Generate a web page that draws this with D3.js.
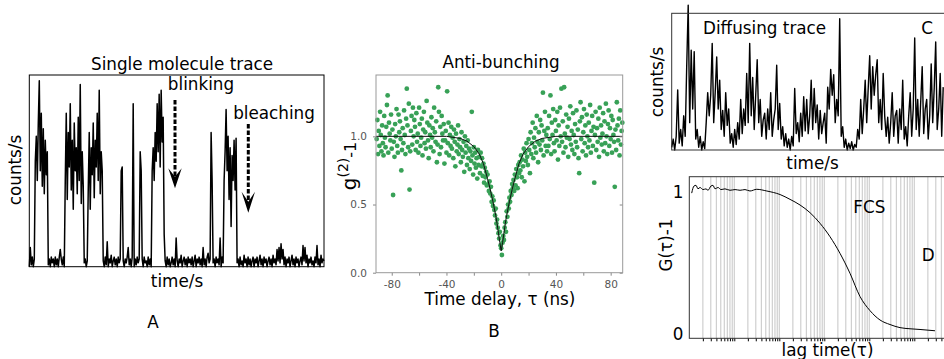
<!DOCTYPE html>
<html>
<head>
<meta charset="utf-8">
<script src="https://cdn.jsdelivr.net/npm/d3@7"></script>
<style>
  body { margin: 0; background: #fff; }
  svg { display: block; font-family: "DejaVu Sans", sans-serif; }
  .lbl { font-size: 16.8px; fill: #000; }
  .axis-b text { font-size: 10.5px; fill: #555; font-family: "DejaVu Sans", sans-serif; }
  .axis-b line { stroke: #888; }
  .axis-b path { display: none; }
  .axis-d line { stroke: #000; }
  .axis-d path { display: none; }
</style>
</head>
<body>
<svg id="chart" width="944" height="359"></svg>
<script>
// A - single molecule trace, one value per time bin (arb. counts, 0-100)
const traceA = [
  0,10,1,5,0,4,
  55,68,45,75,97,50,80,42,72,38,66,48,60,
  1,4,0,5,2,4,0,5,1,4,0,5,9,4,1,5,0,
  45,80,35,70,52,85,40,66,30,75,50,62,38,78,45,95,33,60,42,
  2,4,0,3,
  40,70,30,62,48,75,36,66,52,80,45,92,38,60,50,
  3,0,5,1,13,0,4,2,6,0,3,5,1,4,0,5,2,4,
  50,52,
  3,0,4,2,5,10,1,4,0,5,
  85,
  0,4,1,5,2,4,
  60,50,
  4,0,5,2,3,0,5,1,4,0,
  50,62,45,70,55,85,60,90,52,92,65,78,17,
  3,0,5,1,4,0,2,5,1,4,0,15,3,0,4,2,6,0,3,5,1,4,0,5,2,4,1,5,0,3,6,0,4,2,5,1,4,0,10,1,4,0,5,7,2,4,
  70,45,2,
  4,0,5,2,4,1,15,0,5,2,
  45,60,82,50,68,35,62,21,58,45,66,40,67,
  2,
  4,0,5,1,3,0,6,2,4,0,
  5,1,4,0,3,5,0,4,2,5,
  0,3,6,1,4,0,5,2,4,0,
  3,5,1,4,0,6,2,4,1,9,
  3,10,2,12,4,9,1,5,0,4,
  2,5,0,3,6,1,4,0,5,2,
  4,0,3,5,1,11,3,10,2,6,
  0,4,2,5,1,3,0,5,2,11,
  1,4,0,6,2,4,3
];

// B - anti-bunching histogram, g2 values (x100) for bins of 0.5 ns starting at -91 ns
const binStart = -91;
const binStep = 0.5;
const g2 = [
  98,112,87,104,93,118,101,89,108,95,
  86,115,99,92,107,123,130,88,110,102,
  97,116,91,105,57,96,85,109,100,120,
  93,88,116,103,111,98,75,90,106,95,
  119,101,87,113,135,108,92,124,61,89,
  104,115,94,121,100,112,107,90,117,96,
  102,88,121,109,93,99,113,86,105,118,
  95,103,91,126,110,97,84,108,101,92,
  114,99,106,89,121,103,96,111,81,94,
  136,118,87,107,92,115,102,97,109,80,
  97,104,88,133,95,110,86,101,93,107,
  91,99,84,105,96,78,102,89,94,108,
  87,98,92,81,103,90,85,96,74,100,
  88,93,79,97,84,91,76,89,82,118,
  86,72,92,80,88,77,84,69,90,79,
  85,73,88,78,84,71,80,66,77,70,
  74,64,72,65,60,67,58,63,52,56,
  49,53,46,42,47,36,39,33,29,25,
  30,20,18,13,22,27,24,33,37,30,
  45,41,50,47,55,52,60,57,65,62,
  68,60,72,64,76,70,62,79,73,81,
  75,86,70,83,78,91,67,88,82,95,
  85,79,98,90,73,103,87,95,110,84,
  99,92,106,88,115,96,81,103,94,112,
  90,108,97,132,86,104,118,93,101,89,
  106,93,115,98,130,87,110,101,120,95,
  89,112,104,97,118,83,108,93,121,100,
  135,96,111,88,136,102,92,116,99,107,
  85,113,98,122,94,104,90,117,101,87,
  109,96,119,92,105,84,73,111,125,98,
  114,89,103,120,95,108,86,116,100,92,
  110,97,123,88,104,115,93,107,66,101,
  118,90,106,96,113,85,121,99,108,94,
  102,117,89,111,95,124,100,87,109,119,
  93,106,98,115,88,112,101,96,63,105,
  90,125,108,97,113,86,119,94,104,110
];
// fitted anti-bunching curve
const fitTau = [-91.5,-40,-30,-25,-20,-16,-13,-10,-8,-6,-4,-3,-2,-1,0,1,2,3,4,6,8,10,13,16,20,25,30,40,88.8];
const fitG = [1.0,1.0,0.985,0.965,0.925,0.87,0.8,0.69,0.61,0.52,0.42,0.36,0.29,0.22,0.16,0.22,0.29,0.36,0.42,0.52,0.61,0.69,0.8,0.87,0.925,0.965,0.985,1.0,1.0];
const tauTicks = [-80,-60,-40,-20,0,20,40,60,80];
const g2Ticks = [0, 0.5, 1.0];

// C - diffusing trace (arb. counts, 0-100)
const traceC = [
  2,8,0,10,44,5,15,3,25,10,61,106,20,73,30,72,8,15,2,10,
  0,6,1,20,42,25,40,78,20,42,68,30,51,15,29,10,42,18,30,5,
  12,2,15,4,20,8,37,12,30,18,56,20,78,25,53,15,40,66,20,37,
  10,22,27,8,30,15,42,10,22,30,62,15,34,8,17,3,12,2,8,0,
  10,3,45,12,20,6,27,10,39,14,37,12,25,51,15,45,20,33,8,29,
  12,20,27,5,46,30,59,40,55,20,37,25,96,10,17,2,8,0,5,1,
  6,0,4,2,15,8,37,12,30,51,20,45,69,30,61,40,55,66,20,37,
  15,56,25,10,24,5,20,42,10,25,29,5,30,15,51,8,17,3,25,42,
  10,30,82,15,37,10,35,61,12,30,37,8,25,63,20,45,79,15,30,56,
  10,46
];

// D - FCS autocorrelation, lag time (arb. units) and G(tau)-1
const lagT = [1.13,1.27,1.41,1.56,1.73,2.02,2.35,2.6,3.03,3.36,3.73,4.35,5.06,6.21,8.03,10.4,13.4,17.3,22.3,31.5,52.5,104,173,289,481,802,1340,2230,3720,6210,10370,17300,28800,48100,80200,134000,288000];
const gFCS = [0.99,1.04,1.045,1.02,1.03,1.015,1.02,1.01,1.04,1.045,1.02,1.03,1.015,1.02,1.01,1.015,1.01,1.015,1.005,1.017,1.005,0.98,0.946,0.906,0.852,0.777,0.682,0.565,0.424,0.26,0.16,0.094,0.062,0.04,0.032,0.027,0.018];
const gTicks = [0, 1];

const svg = d3.select('#chart');
svg.append('rect').attr('width', 944).attr('height', 359).attr('fill', '#fff');

function label(x, y, text, opts = {}) {
  const t = svg.append('text')
    .attr('class', 'lbl')
    .attr('text-anchor', opts.anchor || 'middle')
    .text(text);
  if (opts.rotate) {
    t.attr('transform', `translate(${x},${y}) rotate(-90)`);
  } else {
    t.attr('x', x).attr('y', y);
  }
  if (opts.size) t.style('font-size', opts.size + 'px');
  return t;
}

function drawPanelA() {
  const box = {left: 29.3, right: 324, top: 75, bottom: 266.7};
  const x = d3.scaleLinear().domain([0, traceA.length - 1]).range([box.left, box.right]);
  const y = d3.scaleLinear().domain([0, 100]).range([box.bottom, box.top]);

  const line = d3.line()
    .x((d, i) => x(i))
    .y(d => y(d));

  svg.append('path')
    .datum(traceA)
    .attr('d', line)
    .attr('fill', 'none')
    .attr('stroke', '#000')
    .attr('stroke-width', 1.5)
    .attr('stroke-linejoin', 'round');

  svg.append('rect')
    .attr('x', box.left).attr('y', box.top)
    .attr('width', box.right - box.left).attr('height', box.bottom - box.top)
    .attr('fill', 'none').attr('stroke', '#000').attr('stroke-width', 1);

  label(182, 69.5, 'Single molecule trace');
  label(177, 287, 'time/s');
  label(21, 170, 'counts/s', {rotate: true});
  label(153, 328, 'A');

  // dashed annotation arrows
  const arrows = [
    {text: 'blinking', tx: 201, ty: 90, x: 175, y0: 100, tip: 188.3, wing: 168.3, notch: 176.7},
    {text: 'bleaching', tx: 274, ty: 119.3, x: 248.3, y0: 124, tip: 212.7, wing: 191.7, notch: 201.7}
  ];
  arrows.forEach(a => {
    label(a.tx, a.ty, a.text);
    svg.append('line')
      .attr('x1', a.x).attr('x2', a.x)
      .attr('y1', a.y0).attr('y2', a.notch)
      .attr('stroke', '#000').attr('stroke-width', 3)
      .attr('stroke-dasharray', '4.5,2');
    svg.append('path')
      .attr('d', `M${a.x},${a.tip} L${a.x - 6.7},${a.wing} L${a.x},${a.notch} L${a.x + 6.7},${a.wing} Z`)
      .attr('fill', '#000');
  });
}

function drawPanelB() {
  const box = {left: 376, right: 622.7, top: 75, bottom: 272.7};
  const x = d3.scaleLinear().domain([-91.5, 88.8]).range([box.left, box.right]);
  const y = d3.scaleLinear().domain([0, 1.45]).range([box.bottom, box.top]);

  const pts = g2.map((v, i) => ({tau: binStart + i * binStep, g: v / 100}));

  svg.append('g')
    .selectAll('circle')
    .data(pts)
    .join('circle')
    .attr('cx', d => x(d.tau))
    .attr('cy', d => y(d.g))
    .attr('r', 2.4)
    .attr('fill', '#38a157');

  const fit = d3.line()
    .x((d, i) => x(fitTau[i]))
    .y(d => y(d));

  svg.append('path')
    .datum(fitG)
    .attr('d', fit)
    .attr('fill', 'none')
    .attr('stroke', '#111')
    .attr('stroke-width', 1);

  svg.append('g')
    .attr('class', 'axis-b')
    .attr('transform', `translate(0,${box.bottom})`)
    .call(d3.axisBottom(x).tickValues(tauTicks).tickSize(3).tickPadding(5)
      .tickFormat(d => d % 40 === 0 ? String(d) : ''));

  svg.append('g')
    .attr('class', 'axis-b')
    .attr('transform', `translate(${box.left},0)`)
    .call(d3.axisLeft(y).tickValues(g2Ticks).tickSize(3).tickPadding(6).tickFormat(d3.format('.1f')));

  svg.append('g')
    .attr('class', 'axis-b')
    .attr('transform', `translate(${box.right},0)`)
    .call(d3.axisLeft(y).tickValues(g2Ticks).tickSize(3).tickFormat(''));

  svg.append('rect')
    .attr('x', box.left).attr('y', box.top)
    .attr('width', box.right - box.left).attr('height', box.bottom - box.top)
    .attr('fill', 'none').attr('stroke', '#999').attr('stroke-width', 1);

  label(501, 67.5, 'Anti-bunching');
  label(500, 305, 'Time delay, \u03c4 (ns)');
  label(494, 336.5, 'B');

  const yl = svg.append('text')
    .attr('class', 'lbl')
    .attr('text-anchor', 'middle')
    .attr('transform', 'translate(356,166) rotate(-90)')
    .style('font-size', '20px');
  yl.append('tspan').text('g');
  yl.append('tspan').attr('dy', -8).style('font-size', '14px').text('(2)');
  yl.append('tspan').attr('dy', 8).style('font-size', '16px').text('-1');
}

function drawPanelC() {
  const box = {left: 671.7, top: 13.3, bottom: 150};
  const x = d3.scaleLinear().domain([0, traceC.length]).range([box.left, 944.7]);
  const y = d3.scaleLinear().domain([0, 100]).range([box.bottom, box.top]);

  svg.append('path')
    .datum(traceC)
    .attr('d', d3.line().x((d, i) => x(i)).y(d => y(d)))
    .attr('fill', 'none')
    .attr('stroke', '#000')
    .attr('stroke-width', 1.4)
    .attr('stroke-linejoin', 'round');

  svg.append('rect')
    .attr('x', box.left).attr('y', box.top)
    .attr('width', 320).attr('height', box.bottom - box.top)
    .attr('fill', 'none').attr('stroke', '#333').attr('stroke-width', 1);

  label(703, 34.3, 'Diffusing trace', {anchor: 'start'});
  label(927, 34.3, 'C');
  label(812.5, 169, 'time/s');
  label(663, 82, 'counts/s', {rotate: true});
}

function drawPanelD() {
  const box = {left: 689.3, top: 176.7, bottom: 338.3};
  const x = d3.scaleLog().domain([1, 1e6]).range([box.left, 959.3]);
  const y = d3.scaleLinear().domain([0, 1]).range([333.3, 191.7]);

  const grid = [];
  for (let k = 0; k < 6; k++) {
    for (let m = 1; m <= 9; m++) {
      const t = m * Math.pow(10, k);
      if (t > 1) grid.push(t);
    }
  }

  svg.append('g')
    .selectAll('line')
    .data(grid)
    .join('line')
    .attr('x1', d => x(d)).attr('x2', d => x(d))
    .attr('y1', box.top).attr('y2', box.bottom)
    .attr('stroke', '#cfcfcf')
    .attr('stroke-width', 1.2);

  svg.append('g')
    .attr('class', 'axis-d')
    .attr('transform', `translate(0,${box.bottom})`)
    .call(d3.axisBottom(x).tickValues(grid).tickSize(3).tickFormat(''));

  svg.append('path')
    .datum(gFCS)
    .attr('d', d3.line().x((d, i) => x(lagT[i])).y(d => y(d)).curve(d3.curveMonotoneX))
    .attr('fill', 'none')
    .attr('stroke', '#000')
    .attr('stroke-width', 1);

  svg.append('rect')
    .attr('x', box.left).attr('y', box.top)
    .attr('width', 320).attr('height', box.bottom - box.top)
    .attr('fill', 'none').attr('stroke', '#333').attr('stroke-width', 1);

  gTicks.forEach(v => {
    label(683.5, y(v) + 6.3, String(v), {anchor: 'end'});
  });

  label(853.3, 213.3, 'FCS', {anchor: 'start'});
  label(921.7, 260.7, 'D', {anchor: 'start'});
  label(827.5, 355.5, 'lag time(\u03c4)');
  label(672, 245, 'G(\u03c4)-1', {rotate: true});
}

drawPanelA();
drawPanelB();
drawPanelC();
drawPanelD();
</script>
</body>
</html>
